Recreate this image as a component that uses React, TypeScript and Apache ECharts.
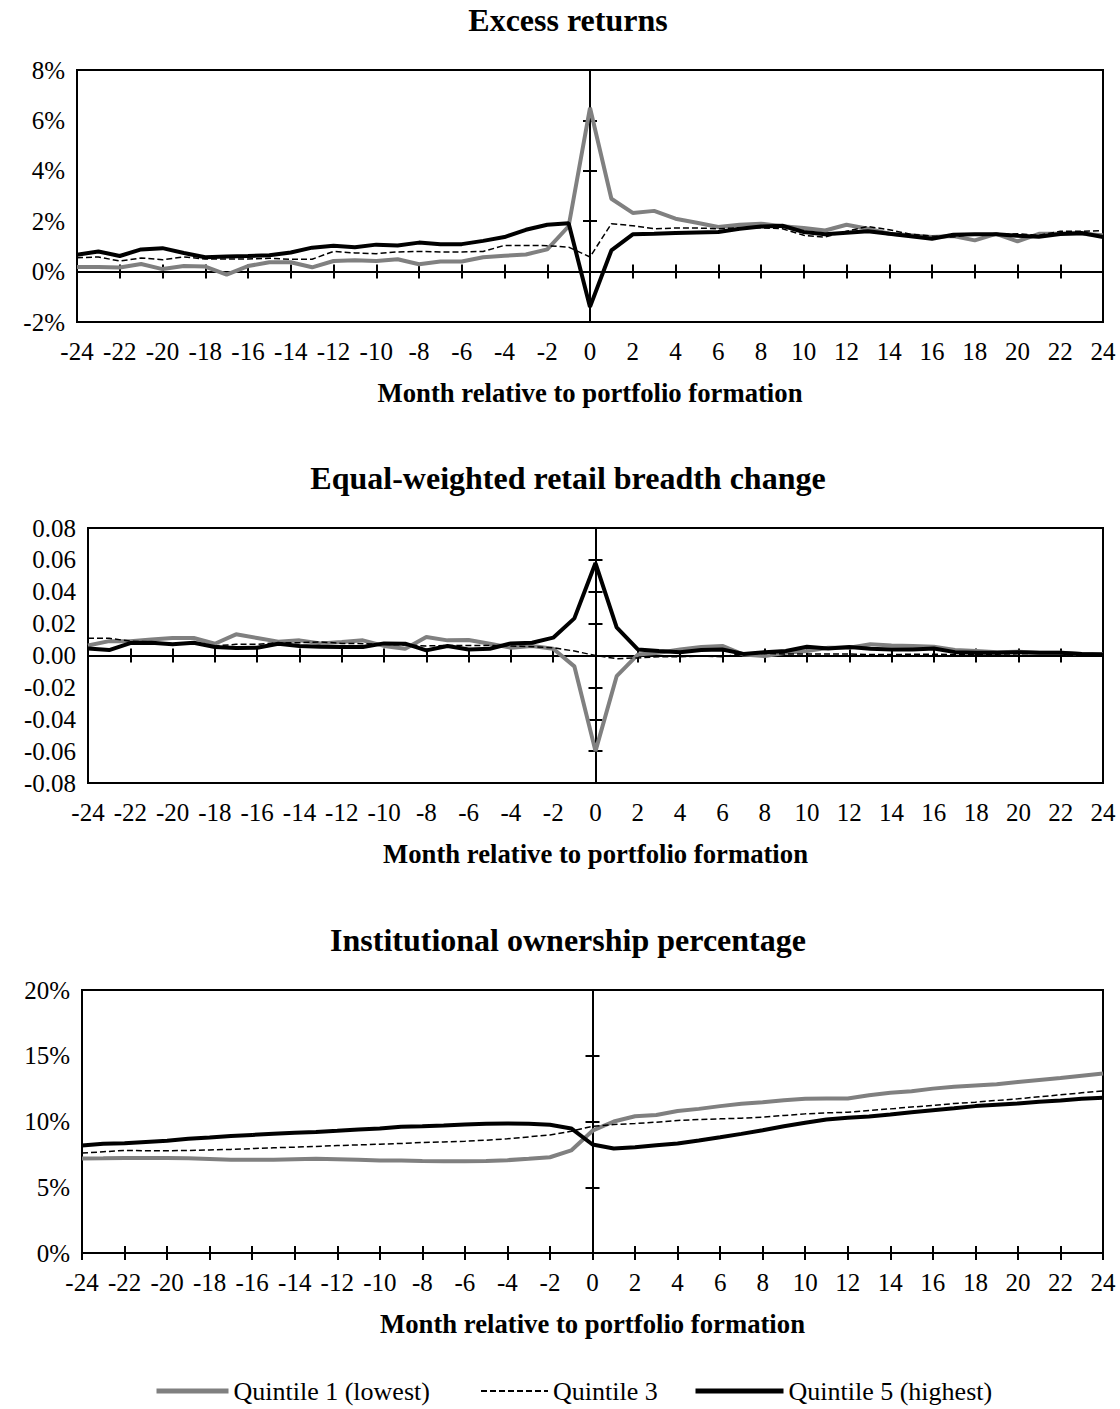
import React, { useEffect, useRef } from "react";
import * as echarts from "echarts";

// Month relative to portfolio formation
const months = [
  -24, -23, -22, -21, -20, -19, -18, -17, -16, -15, -14, -13, -12, -11, -10, -9, -8, -7, -6, -5, -4, -3, -2, -1,
  0,
  1, 2, 3, 4, 5, 6, 7, 8, 9, 10, 11, 12, 13, 14, 15, 16, 17, 18, 19, 20, 21, 22, 23, 24,
];

const seriesNames = ["Quintile 1 (lowest)", "Quintile 3", "Quintile 5 (highest)"];

// Panel 1: Excess returns (%)
const retQ1 = [
  0.18, 0.18, 0.16, 0.3, 0.1, 0.22, 0.2, -0.12, 0.22, 0.37, 0.37, 0.17, 0.42, 0.45, 0.42, 0.49, 0.29, 0.4, 0.4, 0.57, 0.63, 0.68, 0.88, 1.8,
  6.5,
  2.89, 2.33, 2.41, 2.1, 1.94, 1.77, 1.86, 1.9, 1.8, 1.73, 1.63, 1.86, 1.7, 1.5, 1.44, 1.37, 1.41, 1.24, 1.5, 1.2, 1.5, 1.5, 1.5, 1.44,
];
const retQ3 = [
  0.55, 0.58, 0.42, 0.54, 0.47, 0.58, 0.5, 0.5, 0.5, 0.53, 0.49, 0.49, 0.8, 0.74, 0.71, 0.78, 0.8, 0.78, 0.78, 0.8, 1.04, 1.04, 1.03, 0.97,
  0.58,
  1.9, 1.82, 1.7, 1.73, 1.73, 1.7, 1.74, 1.74, 1.7, 1.44, 1.37, 1.6, 1.79, 1.66, 1.48, 1.41, 1.37, 1.5, 1.46, 1.5, 1.44, 1.6, 1.6, 1.63,
];
const retQ5 = [
  0.67, 0.8, 0.62, 0.88, 0.93, 0.74, 0.57, 0.6, 0.62, 0.65, 0.76, 0.95, 1.03, 0.97, 1.07, 1.04, 1.15, 1.09, 1.09, 1.22, 1.37, 1.66, 1.86, 1.92,
  -1.4,
  0.84, 1.48, 1.5, 1.53, 1.55, 1.57, 1.7, 1.79, 1.82, 1.57, 1.48, 1.54, 1.6, 1.5, 1.4, 1.3, 1.46, 1.48, 1.48, 1.42, 1.38, 1.49, 1.53, 1.37,
];

// Panel 2: Equal-weighted retail breadth change
const brQ1 = [
  0.0063, 0.009, 0.009, 0.01, 0.011, 0.011, 0.0074, 0.0133, 0.011, 0.0087, 0.0095, 0.0076, 0.0085, 0.0095, 0.006, 0.0042, 0.0116, 0.0095, 0.0097, 0.0074, 0.0049, 0.006, 0.0042, -0.0068,
  -0.06,
  -0.013, 0.0006, 0.0017, 0.0038, 0.0053, 0.006, 0.0006, -0.0004, 0.0017, 0.0028, 0.0049, 0.0049, 0.007, 0.0063, 0.006, 0.0055, 0.0034, 0.0028, 0.0021, 0.0023, 0.0017, 0.0017, 0.001, 0.001,
];
const brQ3 = [
  0.0108, 0.0108, 0.009, 0.0085, 0.0074, 0.0074, 0.006, 0.007, 0.007, 0.008, 0.008, 0.0085, 0.0076, 0.0074, 0.007, 0.0066, 0.006, 0.0063, 0.0063, 0.0063, 0.006, 0.0055, 0.0049, 0.0028,
  0.0,
  -0.002, -0.0015, -0.0008, -0.0008, -0.0004, -0.0008, 0.0013, 0.0013, 0.001, 0.001, 0.001, 0.001, 0.0006, 0.0006, 0.0008, 0.0008, 0.0006, 0.0004, 0.0004, 0.0002, -0.0004, -0.0004, 0.0, 0.0002,
];
const brQ5 = [
  0.0044, 0.0034, 0.0078, 0.008, 0.007, 0.008, 0.0053, 0.0047, 0.0049, 0.0074, 0.006, 0.0055, 0.0053, 0.0053, 0.0076, 0.0074, 0.0032, 0.006, 0.0038, 0.0042, 0.0076, 0.008, 0.0112, 0.0233,
  0.058,
  0.0176, 0.0038, 0.0028, 0.0021, 0.0034, 0.0038, 0.001, 0.0021, 0.0028, 0.0055, 0.0044, 0.0053, 0.0042, 0.0038, 0.0038, 0.0044, 0.0021, 0.0017, 0.0017, 0.0021, 0.0017, 0.0017, 0.001, 0.0006,
];

// Panel 3: Institutional ownership percentage (%)
const ioQ1 = [
  7.18, 7.2, 7.23, 7.23, 7.23, 7.2, 7.15, 7.1, 7.1, 7.1, 7.13, 7.16, 7.13, 7.1, 7.03, 7.03, 7.0, 6.98, 6.98, 7.0, 7.06, 7.16, 7.28, 7.8,
  9.3,
  10.0, 10.4, 10.5, 10.8, 10.96, 11.17, 11.35, 11.47, 11.62, 11.73, 11.75, 11.75, 12.0, 12.18, 12.3, 12.5, 12.64, 12.74, 12.84, 13.0, 13.15, 13.3, 13.48, 13.65,
];
const ioQ3 = [
  7.6, 7.7, 7.8, 7.78, 7.77, 7.8, 7.84, 7.88, 7.94, 8.0, 8.05, 8.1, 8.17, 8.22, 8.27, 8.33, 8.4, 8.45, 8.5, 8.58, 8.68, 8.83, 8.98, 9.26,
  9.64,
  9.77, 9.85, 9.95, 10.08, 10.15, 10.2, 10.25, 10.33, 10.46, 10.58, 10.66, 10.7, 10.84, 10.96, 11.1, 11.22, 11.37, 11.47, 11.6, 11.73, 11.88, 12.03, 12.18, 12.33,
];
const ioQ5 = [
  8.17, 8.3, 8.35, 8.45, 8.53, 8.68, 8.78, 8.9, 8.98, 9.06, 9.14, 9.21, 9.29, 9.39, 9.47, 9.6, 9.64, 9.7, 9.77, 9.82, 9.85, 9.82, 9.75, 9.47,
  8.25,
  7.95, 8.05, 8.2, 8.32, 8.55, 8.8, 9.06, 9.34, 9.64, 9.9, 10.15, 10.28, 10.38, 10.53, 10.7, 10.86, 11.0, 11.17, 11.27, 11.37, 11.5, 11.6, 11.73, 11.8,
];

const panelTitles = ["Excess returns", "Equal-weighted retail breadth change", "Institutional ownership percentage"];
const xAxisName = "Month relative to portfolio formation";

const FONT = "'Liberation Serif', 'Times New Roman', Times, serif";
const GRAY = "#808080";

export default function App() {
  const ref = useRef<HTMLDivElement>(null);

  useEffect(() => {
    if (!ref.current) return;
    const chart = echarts.init(ref.current, null, { renderer: "svg" });

    const pct = (v: number) => `${Math.round(v)}%`;
    const dec = (v: number) => (Math.abs(v) < 1e-9 ? 0 : v).toFixed(2);

    const panels = [
      { top: 70, height: 252, left: 77, min: -2, max: 8, interval: 2, fmt: pct, data: [retQ1, retQ3, retQ5] },
      { top: 528, height: 255, left: 88, min: -0.08, max: 0.08, interval: 0.02, fmt: dec, data: [brQ1, brQ3, brQ5] },
      { top: 990, height: 263, left: 82, min: 0, max: 20, interval: 5, fmt: pct, data: [ioQ1, ioQ3, ioQ5] },
    ];

    const styles = [
      { color: GRAY, width: 4, type: "solid" as any },
      { color: "#000", width: 1.5, type: [6, 3] as any },
      { color: "#000", width: 4, type: "solid" as any },
    ];

    const grid: any[] = [];
    const xAxis: any[] = [];
    const yAxis: any[] = [];
    const series: any[] = [];
    const title: any[] = [];

    panels.forEach((p, g) => {
      grid.push({
        left: p.left,
        right: 17,
        top: p.top,
        height: p.height,
        show: true,
        borderColor: "#000",
        borderWidth: 2,
        backgroundColor: "transparent",
        containLabel: false,
        outerBoundsMode: "none",
      });
      title.push({
        text: panelTitles[g],
        left: 563,
        top: p.top - 71,
        textAlign: "center",
        textStyle: { fontFamily: FONT, fontSize: 32, fontWeight: "bold", color: "#000" },
      });
      const xBase = { type: "value", gridIndex: g, min: -24, max: 24, interval: 2, splitLine: { show: false } };
      // zero-line axis: ticks inside
      xAxis.push({
        ...xBase,
        position: "bottom",
        axisLine: { show: true, onZero: true, onZeroAxisIndex: 3 * g, lineStyle: { color: "#000", width: 2 } },
        axisTick: { show: true, inside: true, length: 7, lineStyle: { color: "#000", width: 2 } },
        axisLabel: { show: false },
      });
      // zero-line axis: ticks outside
      xAxis.push({
        ...xBase,
        position: "bottom",
        axisLine: { show: false, onZero: true, onZeroAxisIndex: 3 * g },
        axisTick: { show: true, inside: false, length: 7, lineStyle: { color: "#000", width: 2 } },
        axisLabel: { show: false },
      });
      // label axis at the bottom
      xAxis.push({
        ...xBase,
        position: "bottom",
        axisLine: { show: false, onZero: false },
        axisTick: { show: false },
        axisLabel: {
          show: true,
          margin: 17,
          fontFamily: FONT,
          fontSize: 25,
          color: "#000",
          showMinLabel: true,
          showMaxLabel: true,
        },
        name: xAxisName,
        nameLocation: "middle",
        nameGap: 57,
        nameTextStyle: { fontFamily: FONT, fontSize: 26.7, fontWeight: "bold", color: "#000" },
      });

      const yBase = { type: "value", gridIndex: g, min: p.min, max: p.max, interval: p.interval, splitLine: { show: false } };
      yAxis.push({
        ...yBase,
        position: "left",
        axisLine: { show: true, onZero: true, onZeroAxisIndex: 3 * g, lineStyle: { color: "#000", width: 2 } },
        axisTick: { show: true, inside: true, length: 7, lineStyle: { color: "#000", width: 2 } },
        axisLabel: { show: false },
      });
      yAxis.push({
        ...yBase,
        position: "left",
        axisLine: { show: false, onZero: true, onZeroAxisIndex: 3 * g },
        axisTick: { show: true, inside: false, length: 7, lineStyle: { color: "#000", width: 2 } },
        axisLabel: { show: false },
      });
      yAxis.push({
        ...yBase,
        position: "left",
        axisLine: { show: false, onZero: false },
        axisTick: { show: false },
        axisLabel: {
          show: true,
          margin: 12,
          fontFamily: FONT,
          fontSize: 25,
          color: "#000",
          formatter: p.fmt,
          showMinLabel: true,
          showMaxLabel: true,
        },
      });

      p.data.forEach((vals, s) => {
        series.push({
          name: seriesNames[s],
          type: "line",
          xAxisIndex: 3 * g + 2,
          yAxisIndex: 3 * g + 2,
          data: months.map((m, i) => [m, vals[i]]),
          symbol: "none",
          showSymbol: false,
          smooth: false,
          lineStyle: styles[s],
          itemStyle: { color: styles[s].color },
          z: s === 1 ? 4 : 3,
        });
      });
    });

    const legendPos = [
      { left: 154, itemWidth: 72, width: 5 },
      { left: 480, itemWidth: 67, width: 2 },
      { left: 693, itemWidth: 88, width: 5 },
    ];
    const legend = seriesNames.map((name, s) => ({
      left: legendPos[s].left,
      top: 1378,
      padding: 0,
      itemWidth: legendPos[s].itemWidth,
      itemHeight: 14,
      selectedMode: false,
      itemStyle: { opacity: 0, borderWidth: 0 },
      data: [{ name, lineStyle: { width: legendPos[s].width, color: styles[s].color, type: styles[s].type } }],
      textStyle: { fontFamily: FONT, fontSize: 26, color: "#000" },
    }));

    chart.setOption({
      animation: false,
      backgroundColor: "#fff",
      textStyle: { fontFamily: FONT },
      title,
      grid,
      xAxis,
      yAxis,
      series,
      legend,
    });

    return () => chart.dispose();
  }, []);

  return <div ref={ref} style={{ position: "absolute", left: 0, top: 0, width: 1120, height: 1409 }} />;
}
